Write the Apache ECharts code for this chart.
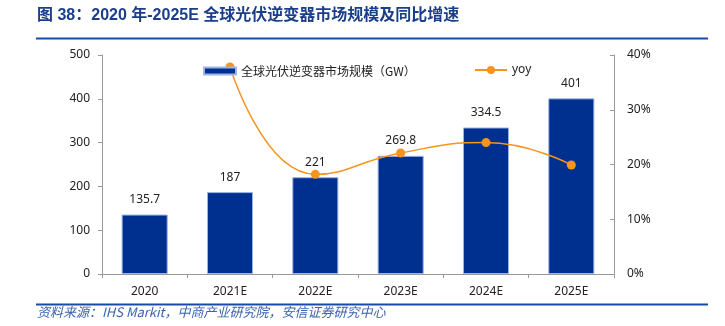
<!DOCTYPE html>
<html><head><meta charset="utf-8">
<script src="https://cdn.jsdelivr.net/npm/echarts@6/dist/echarts.min.js"></script>
<style>html,body{margin:0;padding:0;background:#fff}#c{width:725px;height:326px}</style>
</head><body><div id="c"></div>
<script>
const categories = ['2020','2021E','2022E','2023E','2024E','2025E'];
const capacity = [135.7, 187, 221, 269.8, 334.5, 401];
const yoy = [null, 37.8, 18.2, 22.1, 24.0, 19.9];
const leftTicks = [0,100,200,300,400,500];
const rightTicks = ['0%','10%','20%','30%','40%'];
const barName = '全球光伏逆变器市场规模（GW）';
const lineName = 'yoy';
const titleText = '图 38：2020 年-2025E 全球光伏逆变器市场规模及同比增速';
const sourceText = '资料来源：IHS Markit，中商产业研究院，安信证券研究中心';

const FONT = '"Noto Sans", "Noto Sans CJK SC", sans-serif';
const chart = echarts.init(document.getElementById('c'), null, {renderer:'canvas'});
chart.setOption({
  animation:false,
  textStyle:{fontFamily:FONT},
  graphic:[
    {type:'text', left:37, top:8, style:{text:titleText, font:'bold 16px "Liberation Sans", "Noto Sans CJK SC", sans-serif', fill:'#1A3E8A'}},
    {type:'line', shape:{x1:36,y1:38.5,x2:708,y2:38.5}, style:{stroke:'#1A4AA8', lineWidth:2}},
    {type:'line', shape:{x1:36,y1:304.5,x2:708,y2:304.5}, style:{stroke:'#1A4AA8', lineWidth:2}},
    {type:'text', left:37, top:306, style:{text:sourceText, font:'italic 13px "Noto Sans CJK SC", sans-serif', fill:'#3A64B0'}}
  ],
  legend:[
    {data:[{name:barName, icon:'rect'}], left:198, top:60, itemWidth:32, itemHeight:7, itemGap:4,
     textStyle:{fontSize:12, color:'#222', fontFamily:'"Noto Sans CJK SC", sans-serif'}},
    {data:[lineName], left:469, top:59, itemWidth:32, itemHeight:10,
     textStyle:{fontSize:12, color:'#222'}}
  ],
  grid:{left:102, right:111, top:55, bottom:52},
  xAxis:{type:'category', data:categories, boundaryGap:true,
    axisLine:{lineStyle:{color:'#999'}},
    axisTick:{show:true, alignWithLabel:false, length:4, lineStyle:{color:'#999'}},
    axisLabel:{color:'#222', fontSize:12, margin:12}},
  yAxis:[
    {type:'value', min:0, max:500, interval:100, position:'left',
     axisLine:{show:true, lineStyle:{color:'#999'}},
     axisTick:{show:true, length:4, lineStyle:{color:'#999'}},
     splitLine:{show:false},
     axisLabel:{color:'#222', fontSize:12, margin:12,
       formatter:v=>leftTicks.includes(v)?String(v):''}},
    {type:'value', min:0, max:40, interval:10, position:'right',
     axisLine:{show:true, lineStyle:{color:'#999'}},
     axisTick:{show:true, inside:true, length:4, lineStyle:{color:'#999'}},
     splitLine:{show:false},
     axisLabel:{color:'#222', fontSize:12, margin:13,
       formatter:v=>rightTicks[v/10]}}
  ],
  series:[
    {name:barName, type:'bar', data:capacity, barWidth:'54%', yAxisIndex:0,
     itemStyle:{color:'#00308F', borderColor:'#9FB3E6', borderWidth:1},
     label:{show:true, position:'top', distance:9, color:'#222', fontSize:12}},
    {name:lineName, type:'line', data:yoy, yAxisIndex:1, smooth:0.5,
     symbol:'circle', symbolSize:9, connectNulls:false,
     lineStyle:{color:'#F7941D', width:1.5},
     itemStyle:{color:'#F7941D'}}
  ]
});
</script></body></html>
